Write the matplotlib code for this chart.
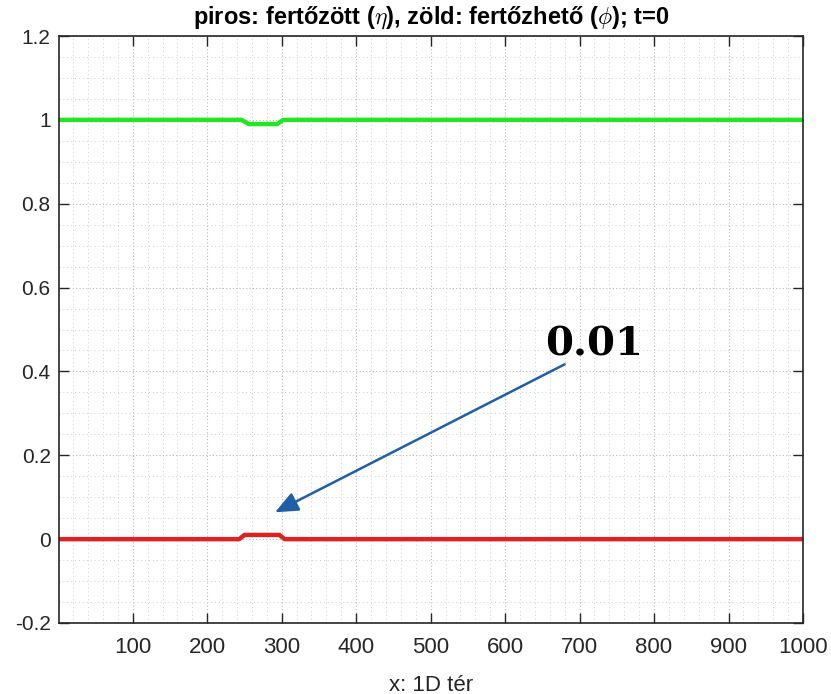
import numpy as np
import matplotlib.pyplot as plt
from matplotlib.ticker import MultipleLocator

plt.rcParams['font.family'] = ['Liberation Sans', 'DejaVu Sans']
plt.rcParams['mathtext.fontset'] = 'cm'

# kezdeti feltétel: töréspontok (x, érték)
x_fertozott = [1, 243, 250, 297, 304, 1000]
eta = [0, 0, 0.01, 0.01, 0, 0]
x_fertozheto = [1, 246, 256, 294, 302, 1000]
phi = [1, 1, 0.99, 0.99, 1, 1]

x_ticks = [100, 200, 300, 400, 500, 600, 700, 800, 900, 1000]
y_ticks = [-0.2, 0, 0.2, 0.4, 0.6, 0.8, 1, 1.2]
y_ticklabels = ['-0.2', '0', '0.2', '0.4', '0.6', '0.8', '1', '1.2']

fig = plt.figure(figsize=(8.31, 6.94), dpi=100)
ax = fig.add_axes([59/831, 1 - 623/694, (803 - 59)/831, (623 - 36)/694])

ax.plot(x_fertozheto, phi, color='#22e622', lw=3.2, solid_joinstyle='round')
ax.plot(x_fertozott, eta, color='#dd2222', lw=3.2, solid_joinstyle='round')

ax.set_xlim(1, 1000)
ax.set_ylim(-0.2, 1.2)
ax.set_xticks(x_ticks)
ax.set_yticks(y_ticks)
ax.set_yticklabels(y_ticklabels)
ax.xaxis.set_minor_locator(MultipleLocator(20))
ax.yaxis.set_minor_locator(MultipleLocator(0.05))

ax.grid(which='major', color='#b8b8b8', ls=(0, (1, 2)), lw=0.8)
ax.grid(which='minor', color='#cfcfcf', ls=(0, (1, 3)), lw=0.7)
ax.tick_params(which='major', direction='in', top=True, right=True,
               length=7, width=1, labelsize=15, colors='#262626', pad=6)
ax.tick_params(axis='x', which='major', labelsize=16, pad=10)
ax.tick_params(which='minor', length=0)
for s in ax.spines.values():
    s.set_linewidth(1.2)
    s.set_color('#262626')

ax.set_title(r'piros: fertőzött ($\eta$), zöld: fertőzhető ($\phi$); t=0',
             fontsize=17, fontweight='bold', pad=9)
ax.set_xlabel('x: 1D tér', fontsize=16, color='#262626', labelpad=12)

ax.annotate('', xy=(291, 0.064), xytext=(680, 0.417),
            arrowprops=dict(arrowstyle='-|>,head_length=1.4,head_width=0.6',
                            color='#1f5fa8', lw=1.8, shrinkA=0, shrinkB=0))
ax.text(720, 0.465, '0.01', fontsize=29, fontweight='bold',
        family='DejaVu Serif', ha='center', va='center', color='black')

fig.savefig('out.png', dpi=100)
